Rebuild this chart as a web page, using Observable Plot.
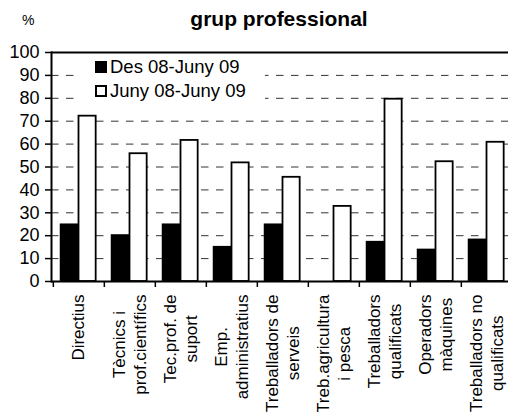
<!DOCTYPE html>
<html><head><meta charset="utf-8">
<script src="https://cdn.jsdelivr.net/npm/d3@7"></script>
<script src="https://cdn.jsdelivr.net/npm/@observablehq/plot@0.6"></script>
<style>
body{margin:0;background:#fff;font-family:"Liberation Sans",Arial,sans-serif;}
#wrap{position:relative;width:508px;height:412px;overflow:hidden;}
#head{position:relative;height:40px;}
#title{position:absolute;left:0;width:558px;top:9px;text-align:center;font-weight:bold;font-size:21px;line-height:20px;white-space:nowrap;}
#pct{position:absolute;left:22px;top:13px;font-size:14px;line-height:14px;}
#legend{position:absolute;left:74px;top:57px;width:191px;height:50px;background:#fff;}
.sw{position:absolute;left:21px;width:12px;height:12px;box-sizing:border-box;border:2px solid #000;}
.lt{position:absolute;left:36px;font-size:18.5px;line-height:18px;white-space:nowrap;}
</style></head><body>
<div id="wrap">
  <div id="head"><div id="title">grup professional</div><div id="pct">%</div></div>
  <div id="chart"></div>
  <div id="legend"></div>
</div>
<script>
const categories = ["Directius","Tècnics i prof.científics","Tec.prof. de suport","Emp. administratius","Treballadors de serveis","Treb.agricultura i pesca","Treballadors qualificats","Operadors màquines","Treballadors no qualificats"];
const tickLabels = [["Directius"],["Tècnics i","prof.científics"],["Tec.prof. de","suport"],["Emp.","administratius"],["Treballadors de","serveis"],["Treb.agricultura","i pesca"],["Treballadors","qualificats"],["Operadors","màquines"],["Treballadors no","qualificats"]];
const seriesNames = ["Des 08-Juny 09","Juny 08-Juny 09"];
const desValues = [24.8, 20.1, 24.8, 15.0, 24.8, 0, 17.2, 13.8, 18.2];
const junyValues = [72.2, 55.8, 61.6, 51.8, 45.5, 32.8, 79.6, 52.3, 60.8];
const yTicks = [0,10,20,30,40,50,60,70,80,90,100];
const gridTicks = [10,20,30,40,50,60,70,80,90];

const data = categories.map((c,i) => ({cat:c, des:desValues[i], juny:junyValues[i]}));

const xRange = [51, 513];
const bw = (xRange[1]-xRange[0]) / categories.length;

// measure label widths
const ctx = document.createElement("canvas").getContext("2d");
const labelFont = 17;
ctx.font = `${labelFont}px "Liberation Sans"`;
const labelMarks = [];
categories.forEach((c,i) => {
  const lines = tickLabels[i];
  const w = Math.max(...lines.map(l => ctx.measureText(l).width));
  lines.forEach((l,j) => {
    labelMarks.push(Plot.text([{cat:c, t:l}], {
      x:"cat", y:() => 0, text:"t", rotate:-90, textAnchor:"middle",
      fontSize:labelFont, fill:"#000",
      dx:(j - (lines.length-1)/2) * 21.5, dy:13 + w/2
    }));
  });
});

const chart = Plot.plot({
  width:508, height:372,
  marginLeft:51, marginRight:0, marginTop:12, marginBottom:131,
  style:{fontFamily:'"Liberation Sans", Arial, sans-serif', background:"transparent", overflow:"hidden"},
  x:{domain:categories, range:xRange, padding:0},
  y:{domain:[0,100]},
  marks:[
    Plot.ruleY(gridTicks, {stroke:"#333", strokeWidth:1, strokeDasharray:"7.5,7.5"}),
    Plot.barY(data, {x:"cat", y:"des", fill:"#000", stroke:"#000", strokeWidth:1.5, insetLeft:7.5, insetRight:bw-25.5}),
    Plot.barY(data, {x:"cat", y:"juny", fill:"#fff", stroke:"#000", strokeWidth:1.8, insetLeft:25.5, insetRight:bw-43}),
    Plot.ruleY([0], {stroke:"#000", strokeWidth:2}),
    Plot.ruleY([100], {stroke:"#000", strokeWidth:2}),
    Plot.frame({anchor:"left", stroke:"#000", strokeWidth:2}),
    Plot.axisY({ticks:yTicks, tickSize:6, tickPadding:6, fontSize:18, label:null, stroke:"#000", strokeWidth:1.5, tickFormat:d=>String(d)}),
    Plot.axisX({tickSize:6, tickFormat:()=>"", label:null, dx:-bw/2, stroke:"#000", strokeWidth:1.5}),
    ...labelMarks
  ]
});
document.getElementById("chart").appendChild(chart);

// legend
const leg = document.getElementById("legend");
const rows = [{top:4, tt:1, fill:"#000"},{top:28, tt:24.5, fill:"#fff"}];
seriesNames.forEach((s,i) => {
  const sw = document.createElement("div"); sw.className="sw";
  sw.style.top = rows[i].top + "px"; sw.style.background = rows[i].fill;
  const t = document.createElement("div"); t.className="lt";
  t.style.top = rows[i].tt + "px"; t.textContent = s;
  leg.appendChild(sw); leg.appendChild(t);
});
</script>
</body></html>
